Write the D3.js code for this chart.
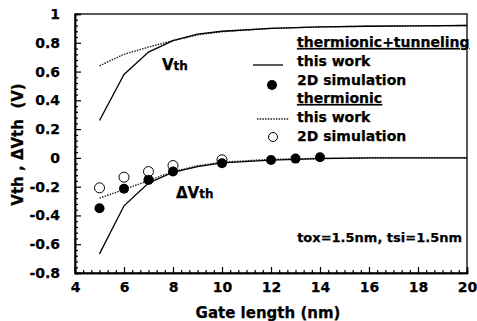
<!DOCTYPE html>
<html>
<head>
<meta charset="utf-8">
<script src="https://cdn.jsdelivr.net/npm/d3@7"></script>
<style>
  body { margin: 0; background: #fff; }
  svg text { font-family: "DejaVu Sans", sans-serif; font-weight: bold; fill: #000; stroke: #000; stroke-width: 0.25; }
</style>
</head>
<body>
<div class="chart"></div>
<script>
// gate lengths (nm) for the model curves
const modelLength = [5, 6, 7, 8, 9, 10, 12, 14, 16, 18, 20];
// Vth, thermionic + tunneling (this work)
const vthTunnel = [0.26, 0.58, 0.735, 0.815, 0.86, 0.88, 0.9, 0.91, 0.915, 0.918, 0.92];
// Vth, thermionic only (this work)
const vthThermal = [0.64, 0.72, 0.77, 0.815, 0.855, 0.877, 0.9, 0.91, 0.915, 0.918, 0.92];
// dVth, thermionic + tunneling (this work)
const dvthTunnel = [-0.667, -0.333, -0.175, -0.1, -0.06, -0.035, -0.015, -0.005, 0, 0, 0];
// dVth, thermionic only (this work)
const dvthThermal = [-0.28, -0.22, -0.158, -0.095, -0.055, -0.03, -0.01, -0.003, 0, 0, 0];

// 2D simulation points
const simTunnelLength = [5, 6, 7, 8, 10, 12, 13, 14];
const simTunnelDvth = [-0.35, -0.215, -0.153, -0.095, -0.037, -0.015, -0.005, 0.005];
const simThermalLength = [5, 6, 7, 8, 10];
const simThermalDvth = [-0.215, -0.141, -0.102, -0.06, -0.02];

const xTicks = [4, 6, 8, 10, 12, 14, 16, 18, 20];
const yTicks = [1, 0.8, 0.6, 0.4, 0.2, 0, -0.2, -0.4, -0.6, -0.8];

const width = 477, height = 321;
const margin = { top: 14, right: 10, bottom: 48, left: 75 };

const svg = d3.select(".chart").append("svg")
  .attr("width", width)
  .attr("height", height);

const x = d3.scaleLinear().domain([4, 20]).range([margin.left, width - margin.right]);
const y = d3.scaleLinear().domain([-0.8, 1]).range([height - margin.bottom, margin.top]);

const fmt = (d) => d === 0 ? "0" : d === 1 ? "1" : d3.format(".1f")(d).replace("\u2212", "-");

// frame (top + right, no ticks)
svg.append("rect")
  .attr("x", x(4)).attr("y", y(1))
  .attr("width", x(20) - x(4)).attr("height", y(-0.8) - y(1))
  .attr("fill", "none").attr("stroke", "#000").attr("stroke-width", 1.3);

// bottom axis, ticks point inward
const xMinor = d3.range(4, 20.01, 1 / 3).filter((v) => Math.abs(v - Math.round(v / 2) * 2) > 0.01);
const xAxis = svg.append("g")
  .attr("transform", `translate(0, ${y(-0.8)})`)
  .call(d3.axisBottom(x).tickValues(xTicks).tickSize(-6).tickPadding(9).tickFormat(d3.format("d")));
svg.append("g")
  .attr("transform", `translate(0, ${y(-0.8)})`)
  .call(d3.axisBottom(x).tickValues(xMinor).tickSize(-3).tickFormat(""));

// left axis
const yMinor = d3.range(-0.8, 1.001, 0.04).filter((v) => Math.abs(v * 5 - Math.round(v * 5)) > 0.01);
const yAxis = svg.append("g")
  .attr("transform", `translate(${x(4)}, 0)`)
  .call(d3.axisLeft(y).tickValues(yTicks).tickSize(-6).tickPadding(15).tickFormat(fmt));
svg.append("g")
  .attr("transform", `translate(${x(4)}, 0)`)
  .call(d3.axisLeft(y).tickValues(yMinor).tickSize(-3).tickFormat(""));

svg.selectAll(".domain").attr("stroke", "#000").attr("stroke-width", 1.5);
svg.selectAll(".tick line").attr("stroke", "#000").attr("stroke-width", 1.2);
xAxis.selectAll("text").style("font-size", "14px").style("font-family", "DejaVu Sans").style("font-weight", "bold");
yAxis.selectAll("text").style("font-size", "14px").style("font-family", "DejaVu Sans").style("font-weight", "bold");

// axis titles
svg.append("text")
  .attr("x", 268).attr("y", 318)
  .attr("text-anchor", "middle")
  .style("font-size", "15px")
  .text("Gate length (nm)");

svg.append("text")
  .attr("transform", `translate(23, ${(y(-0.8) + y(1)) / 2 + 1}) rotate(-90)`)
  .attr("text-anchor", "middle")
  .style("font-size", "15px")
  .style("white-space", "pre")
  .text("Vth , \u0394Vth  (V)");

// curves
const line = (xs, ys) => d3.line().x((d, i) => x(xs[i])).y((d) => y(d))(ys);

const dotted = "1.5,1.2";
svg.append("path").attr("d", line(modelLength, vthThermal))
  .attr("fill", "none").attr("stroke", "#222").attr("stroke-width", 1.4).attr("stroke-dasharray", dotted);
svg.append("path").attr("d", line(modelLength, dvthThermal))
  .attr("fill", "none").attr("stroke", "#222").attr("stroke-width", 1.4).attr("stroke-dasharray", dotted);
svg.append("path").attr("d", line(modelLength, vthTunnel))
  .attr("fill", "none").attr("stroke", "#000").attr("stroke-width", 1.3);
svg.append("path").attr("d", line(modelLength, dvthTunnel))
  .attr("fill", "none").attr("stroke", "#000").attr("stroke-width", 1.3);

// simulation markers
svg.selectAll(".simTh").data(simThermalDvth).enter().append("circle")
  .attr("cx", (d, i) => x(simThermalLength[i])).attr("cy", (d) => y(d) - 1)
  .attr("r", 5).attr("fill", "#fff").attr("stroke", "#000").attr("stroke-width", 1);
svg.selectAll(".simTT").data(simTunnelDvth).enter().append("circle")
  .attr("cx", (d, i) => x(simTunnelLength[i])).attr("cy", (d) => y(d))
  .attr("r", 5).attr("fill", "#000");

// curve labels
const vLabel = svg.append("text").attr("x", 162).attr("y", 70).style("font-size", "15px");
vLabel.append("tspan").text("V");
vLabel.append("tspan").style("font-size", "12px").text("th");

const dvLabel = svg.append("text").attr("x", 176).attr("y", 198).style("font-size", "15px");
dvLabel.append("tspan").text("\u0394V");
dvLabel.append("tspan").style("font-size", "12px").text("th");

// legend
const legX = 297;
const legend = svg.append("g");
legend.append("text").attr("x", legX).attr("y", 47).style("font-size", "14px")
  .style("text-decoration", "underline").text("thermionic+tunneling");
legend.append("line").attr("x1", 253).attr("x2", 283).attr("y1", 65).attr("y2", 65)
  .attr("stroke", "#000").attr("stroke-width", 1.3);
legend.append("text").attr("x", legX).attr("y", 66).style("font-size", "14px").text("this work");
legend.append("circle").attr("cx", 272).attr("cy", 85).attr("r", 5).attr("fill", "#000");
legend.append("text").attr("x", legX).attr("y", 85).style("font-size", "14px").text("2D simulation");
legend.append("text").attr("x", legX).attr("y", 103).style("font-size", "14px")
  .style("text-decoration", "underline").text("thermionic");
legend.append("line").attr("x1", 257).attr("x2", 289).attr("y1", 119).attr("y2", 119)
  .attr("stroke", "#222").attr("stroke-width", 1.4).attr("stroke-dasharray", dotted);
legend.append("text").attr("x", legX).attr("y", 122).style("font-size", "14px").text("this work");
legend.append("circle").attr("cx", 273).attr("cy", 137).attr("r", 4.5)
  .attr("fill", "#fff").attr("stroke", "#000").attr("stroke-width", 1);
legend.append("text").attr("x", legX).attr("y", 141).style("font-size", "14px").text("2D simulation");

svg.append("text").attr("x", 462).attr("y", 242).attr("text-anchor", "end")
  .style("font-size", "13px").text("tox=1.5nm, tsi=1.5nm");
</script>
</body>
</html>
